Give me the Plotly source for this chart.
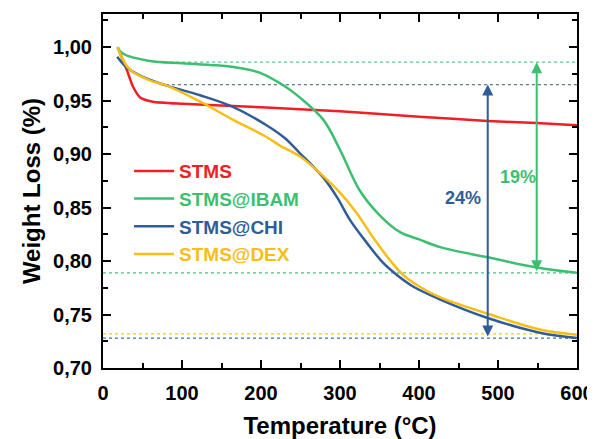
import plotly.graph_objects as go

# ---------------- data ----------------
T_STMS = [19, 30, 38, 47, 63, 101, 165, 249, 300, 400, 487, 549, 600]
W_STMS = [0.999, 0.979, 0.963, 0.953, 0.949, 0.947, 0.945, 0.942, 0.940, 0.935, 0.931, 0.929, 0.927]

T_IBAM = [18, 25, 59, 101, 144, 177, 199, 220, 237, 249, 279, 300, 325, 350, 376, 401, 427, 490, 549, 600]
W_IBAM = [1.000, 0.994, 0.987, 0.985, 0.983, 0.980, 0.976, 0.968, 0.960, 0.953, 0.932, 0.904, 0.866, 0.843, 0.827, 0.820, 0.813, 0.803, 0.794, 0.789]

T_CHI = [18, 30, 51, 81, 123, 165, 207, 230, 249, 279, 296, 313, 334, 355, 372, 393, 427, 486, 553, 600]
W_CHI = [0.991, 0.981, 0.972, 0.964, 0.955, 0.944, 0.927, 0.915, 0.901, 0.878, 0.860, 0.838, 0.817, 0.798, 0.787, 0.776, 0.764, 0.747, 0.733, 0.728]

T_DEX = [19, 22, 34, 59, 81, 123, 165, 207, 224, 249, 275, 300, 321, 342, 363, 380, 401, 427, 490, 553, 600]
W_DEX = [1.000, 0.993, 0.979, 0.969, 0.964, 0.949, 0.932, 0.916, 0.908, 0.898, 0.882, 0.864, 0.845, 0.822, 0.801, 0.787, 0.776, 0.766, 0.750, 0.736, 0.731]

SERIES = ["STMS", "STMS@IBAM", "STMS@CHI", "STMS@DEX"]
COLORS = ["#ee2024", "#3dbf72", "#2f5d98", "#f7be16"]
SMOOTH = [0.6, 1.0, 1.0, 1.0]

# reference levels (dotted) and loss arrows
LEVELS_Y = [0.986, 0.965, 0.789, 0.732, 0.728]
LEVELS_X0 = [85, 72, 0, 0, 0]
LEVEL_COLORS = ["#55c585", "#5f7590", "#49c27c", "#f5c518", "#3d6fb0"]

ARROW_X = [487, 549]
ARROW_TOP = [0.965, 0.986]
ARROW_BOT = [0.728, 0.789]
ARROW_LABEL = ["24%", "19%"]
ARROW_LABEL_XY = [(456, 0.859), (525, 0.879)]
ARROW_COLORS = ["#2f5d98", "#3dbf72"]

X_TICKS = [0, 100, 200, 300, 400, 500, 600]
Y_TICKS = [0.70, 0.75, 0.80, 0.85, 0.90, 0.95, 1.00]

FONT = "Liberation Sans, Arial, sans-serif"

fig = go.Figure()

# dotted guide lines
for y, x0, c in zip(LEVELS_Y, LEVELS_X0, LEVEL_COLORS):
    fig.add_trace(go.Scatter(x=[x0, 600], y=[y, y], mode="lines",
                             line=dict(color=c, width=1.3, dash="dot"),
                             showlegend=False, hoverinfo="skip"))

data = [(T_STMS, W_STMS), (T_IBAM, W_IBAM), (T_CHI, W_CHI), (T_DEX, W_DEX)]
for (t, w), name, c, s in zip(data, SERIES, COLORS, SMOOTH):
    fig.add_trace(go.Scatter(
        x=t, y=w, mode="lines",
        line=dict(color=c, width=2.5, shape="spline", smoothing=s),
        name=f'<span style="color:{c}">{name}</span>'))

annotations = []
for x, yt, yb, lab, (lx, ly), c in zip(ARROW_X, ARROW_TOP, ARROW_BOT, ARROW_LABEL, ARROW_LABEL_XY, ARROW_COLORS):
    annotations.append(dict(x=x, y=yt, ax=x, ay=yb, xref="x", yref="y", axref="x", ayref="y",
                            showarrow=True, arrowhead=2, arrowside="end+start", arrowsize=1.1,
                            arrowwidth=2, arrowcolor=c, text=""))
    annotations.append(dict(x=lx, y=ly, xref="x", yref="y", text=lab, showarrow=False,
                            font=dict(family=FONT, size=18, color=c, weight="bold")))

axis_common = dict(showline=True, linecolor="black", linewidth=2, mirror="ticks",
                   ticks="inside", ticklen=8, tickwidth=2, tickcolor="black",
                   showgrid=False, zeroline=False, automargin=False,
                   tickfont=dict(family=FONT, size=20, color="black", weight="bold"))

fig.update_layout(
    width=587, height=431,
    margin=dict(l=95, r=18, t=6, b=71),
    plot_bgcolor="white", paper_bgcolor="white",
    separators=",.",
    font=dict(family=FONT, color="black"),
    xaxis=dict(range=[0, 600], tickvals=X_TICKS, ticklabelstandoff=6,
               minor=dict(ticks="inside", ticklen=5, tickwidth=2, tickcolor="black", dtick=50),
               title=dict(text="Temperature (°C)", standoff=15,
                          font=dict(family=FONT, size=24, color="black", weight="bold")),
               **axis_common),
    yaxis=dict(range=[0.70, 1.031], tickvals=Y_TICKS, tickformat=".2f", ticklabelstandoff=5,
               minor=dict(ticks="inside", ticklen=5, tickwidth=2, tickcolor="black", dtick=0.025),
               title=dict(text="Weight Loss (%)", standoff=6,
                          font=dict(family=FONT, size=24, color="black", weight="bold")),
               **axis_common),
    legend=dict(x=0.055, y=0.61, xanchor="left", yanchor="top", bgcolor="rgba(0,0,0,0)",
                font=dict(family=FONT, size=19, weight="bold"), tracegroupgap=0, itemwidth=40),
    annotations=annotations,
    showlegend=True,
)

fig.write_html("out.html")
